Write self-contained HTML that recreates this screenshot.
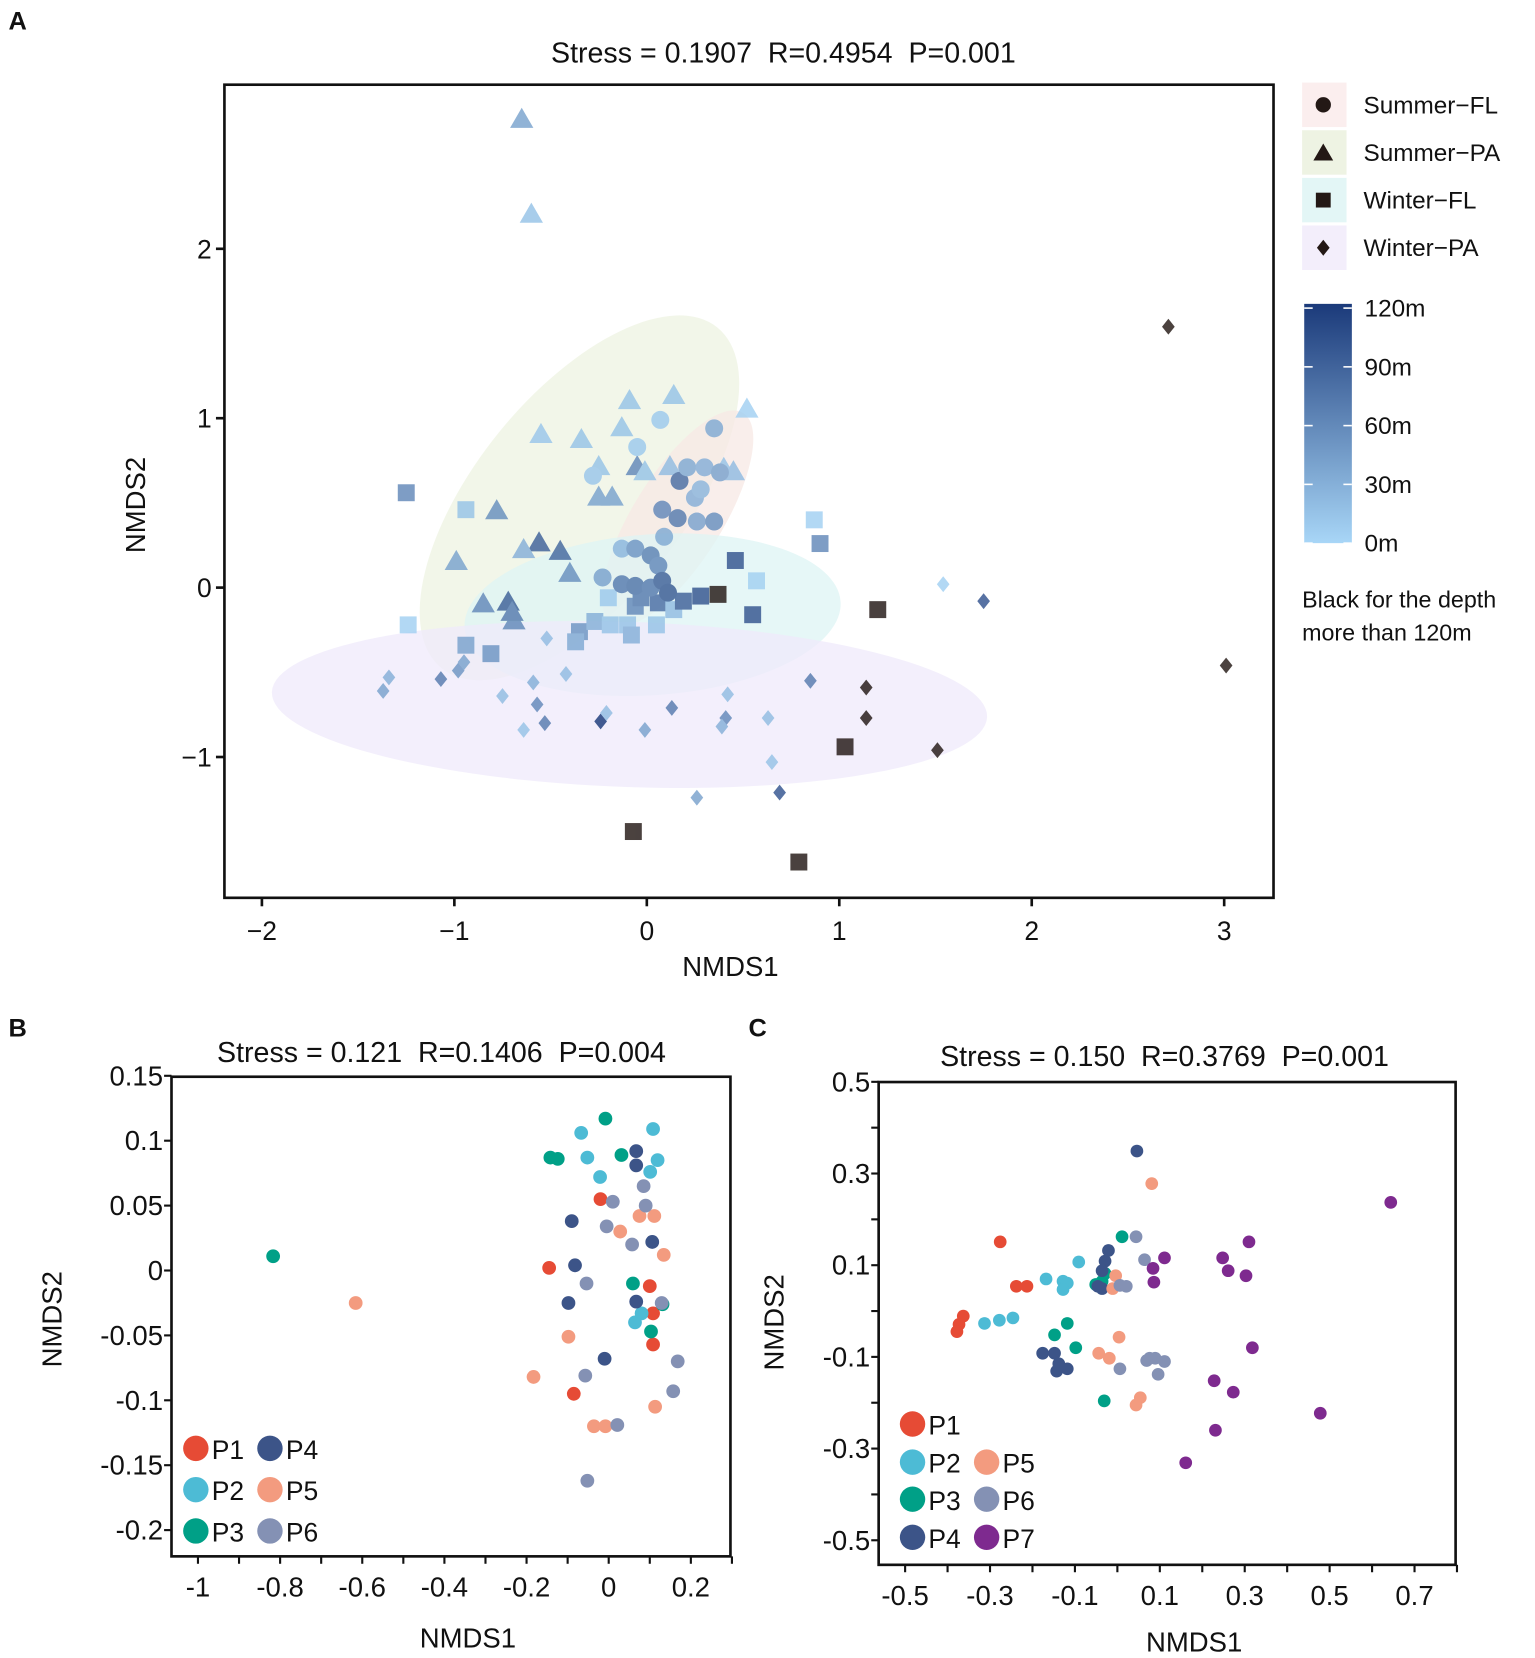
<!DOCTYPE html>
<html><head><meta charset="utf-8">
<style>
html,body{margin:0;padding:0;background:#fff;}
svg{display:block;}
text{font-family:"Liberation Sans",Arial,sans-serif;fill:#111;white-space:pre;}
</style></head>
<body>
<svg id="fig" width="1535" height="1658" viewBox="0 0 1450 1566" preserveAspectRatio="none" xmlns="http://www.w3.org/2000/svg" xml:space="preserve">
<g id="panelA"></g>
<g id="panelB"></g>
<g id="panelC"></g>
</svg>
<script>
// ===== Panel A data =====
const sfX=[0.07,-0.05,0.35,-0.28,0.17,0.21,0.30,0.38,0.25,0.28,0.08,0.16,0.26,0.35,0.09,-0.13,-0.06,0.02,0.06,-0.23,-0.13,-0.06,0.02,0.08,0.11];
const sfY=[0.99,0.83,0.94,0.66,0.63,0.71,0.71,0.68,0.53,0.58,0.46,0.41,0.39,0.39,0.30,0.23,0.23,0.19,0.13,0.06,0.02,0.01,0.0,0.04,-0.03];
const sfD=[10,10,35,12,80,35,30,40,30,25,60,70,40,55,35,25,50,65,60,40,70,75,70,90,95];
const spX=[-0.65,-0.60,0.14,-0.09,0.52,-0.55,-0.13,-0.34,0.12,-0.25,-0.05,0.40,-0.25,-0.18,-0.78,-0.56,-0.64,-0.45,-0.99,-0.40,-0.85,-0.72,-0.69,-0.70,-0.01,0.45];
const spY=[2.77,2.21,1.14,1.11,1.06,0.91,0.95,0.88,0.72,0.72,0.72,0.71,0.54,0.54,0.46,0.27,0.23,0.22,0.16,0.09,-0.09,-0.08,-0.19,-0.14,0.69,0.69];
const spD=[40,15,15,15,5,12,15,15,20,15,60,15,40,40,55,90,30,85,40,55,60,90,60,70,15,20];
const wfX=[-1.25,-0.94,0.87,0.90,0.46,0.57,0.37,0.28,0.55,1.20,-1.24,-0.94,-0.81,-0.35,-0.27,-0.19,-0.10,-0.08,-0.06,-0.03,0.05,0.06,0.14,0.19,-0.20,1.03,-0.07,0.79,-0.37];
const wfY=[0.56,0.46,0.40,0.26,0.16,0.04,-0.04,-0.05,-0.16,-0.13,-0.22,-0.34,-0.39,-0.26,-0.20,-0.22,-0.22,-0.28,-0.11,-0.06,-0.22,-0.09,-0.13,-0.08,-0.06,-0.94,-1.44,-1.62,-0.32];
const wfD=[60,15,5,60,100,5,150,100,100,150,5,40,50,50,30,15,15,30,60,70,15,80,20,90,10,150,150,150,35];
const wpX=[2.71,3.01,1.54,1.75,1.14,1.14,1.51,-1.34,-1.37,-1.07,-0.98,-0.95,-0.52,-0.59,-0.42,-0.57,-0.75,-0.64,-0.53,-0.24,-0.21,-0.01,0.13,0.42,0.41,0.39,0.63,0.85,0.65,0.26,0.69];
const wpY=[1.54,-0.46,0.02,-0.08,-0.59,-0.77,-0.96,-0.53,-0.61,-0.54,-0.49,-0.44,-0.30,-0.56,-0.51,-0.69,-0.64,-0.84,-0.80,-0.79,-0.74,-0.84,-0.71,-0.63,-0.77,-0.82,-0.77,-0.55,-1.03,-1.24,-1.21];
const wpD=[150,150,5,100,150,150,150,30,40,70,50,40,20,30,20,60,20,15,70,120,20,40,70,20,60,30,20,70,15,40,100];
const aXTicks=[-2,-1,0,1,2,3];
const aYTicks=[-1,0,1,2];
const depthTicks=[0,30,60,90,120];

// ===== Panel B data =====
const bXTicks=[-1,-0.8,-0.6,-0.4,-0.2,0,0.2];
const bYTicks=[0.15,0.1,0.05,0,-0.05,-0.1,-0.15,-0.2];
const bYLabels=["0.15","0.1","0.05","0","-0.05","-0.1","-0.15","-0.2"];
const bP1x=[-0.02,-0.145,0.10,0.108,0.108,-0.085];
const bP1y=[0.055,0.002,-0.012,-0.033,-0.057,-0.095];
const bP2x=[-0.067,0.108,-0.052,0.119,-0.021,0.101,0.064,0.08];
const bP2y=[0.106,0.109,0.087,0.085,0.072,0.076,-0.04,-0.033];
const bP3x=[-0.008,-0.142,-0.124,0.031,0.059,0.131,0.103,-0.817];
const bP3y=[0.117,0.087,0.086,0.089,-0.01,-0.026,-0.047,0.011];
const bP4x=[0.067,0.067,-0.09,-0.082,-0.098,0.067,-0.01,0.106];
const bP4y=[0.092,0.081,0.038,0.004,-0.025,-0.024,-0.068,0.022];
const bP5x=[0.075,0.111,0.028,0.134,-0.098,-0.183,0.113,-0.036,-0.008,-0.616];
const bP5y=[0.042,0.042,0.03,0.012,-0.051,-0.082,-0.105,-0.12,-0.12,-0.025];
const bP6x=[0.01,0.085,0.09,-0.005,0.057,-0.054,0.129,0.168,0.157,-0.057,0.021,-0.052];
const bP6y=[0.053,0.065,0.05,0.034,0.02,-0.01,-0.025,-0.07,-0.093,-0.081,-0.119,-0.162];

// ===== Panel C data =====
const cXTicks=[-0.5,-0.3,-0.1,0.1,0.3,0.5,0.7];
const cYTicks=[0.5,0.3,0.1,-0.1,-0.3,-0.5];
const cP1x=[-0.276,-0.238,-0.213,-0.363,-0.373,-0.378];
const cP1y=[0.151,0.054,0.054,-0.011,-0.029,-0.045];
const cP2x=[-0.313,-0.278,-0.246,-0.168,-0.128,-0.118,-0.128,-0.091];
const cP2y=[-0.027,-0.020,-0.015,0.070,0.065,0.061,0.047,0.107];
const cP3x=[0.011,-0.029,-0.036,-0.051,-0.118,-0.148,-0.098,-0.031];
const cP3y=[0.162,0.082,0.065,0.058,-0.027,-0.052,-0.080,-0.196];
const cP4x=[0.046,-0.021,-0.029,-0.036,-0.036,-0.176,-0.148,-0.138,-0.143,-0.118,-0.046];
const cP4y=[0.349,0.132,0.109,0.088,0.049,-0.092,-0.092,-0.115,-0.131,-0.126,0.054];
const cP5x=[0.081,-0.004,-0.011,-0.044,-0.019,0.004,0.054,0.044];
const cP5y=[0.278,0.077,0.049,-0.092,-0.103,-0.057,-0.189,-0.205];
const cP6x=[0.044,0.064,0.006,0.021,0.076,0.089,0.069,0.111,0.006,0.096];
const cP6y=[0.162,0.112,0.056,0.054,-0.103,-0.103,-0.108,-0.110,-0.126,-0.138];
const cP7x=[0.644,0.310,0.111,0.248,0.261,0.303,0.084,0.086,0.318,0.228,0.273,0.478,0.231,0.161];
const cP7y=[0.237,0.151,0.116,0.116,0.088,0.077,0.093,0.063,-0.080,-0.152,-0.177,-0.223,-0.260,-0.331];

const NS="http://www.w3.org/2000/svg";
function mk(parent,tag,attrs,txt){const e=document.createElementNS(NS,tag);for(const k in attrs)e.setAttribute(k,attrs[k]);if(txt!==undefined)e.textContent=txt;parent.appendChild(e);return e;}
function lerp(a,b,t){return Math.round(a+(b-a)*t);}
function depthColor(d){if(d>120)return "#231815";const t=d/120;const c0=[168,214,247],c1=[27,58,122];return `rgb(${lerp(c0[0],c1[0],t)},${lerp(c0[1],c1[1],t)},${lerp(c0[2],c1[2],t)})`;}

// ===== Panel A =====
const A=document.getElementById('panelA');
const ax=v=>611+v*181.8, ay=v=>555-v*160;
let t;
t=mk(A,'text',{x:8,y:28,'font-size':24,'font-weight':'bold'},'A');


t=mk(A,'text',{x:740,y:59,'font-size':27,'text-anchor':'middle'},'Stress = 0.1907  R=0.4954  P=0.001');


const ellA=[
 {n:'ellipse-summer-pa',cx:-0.35,cy:0.53,rx:207,ry:98,rot:-51,fill:'#eef3e1'},
 {n:'ellipse-summer-fl',cx:0.16,cy:0.41,rx:117,ry:42,rot:-58,fill:'#f7e8e4'},
 {n:'ellipse-winter-fl',cx:0.03,cy:-0.16,rx:178,ry:76,rot:-4,fill:'#ddf4f4'},
 {n:'ellipse-winter-pa',cx:-0.09,cy:-0.69,rx:338,ry:78,rot:2,fill:'#efeafb'}];
ellA.forEach(e=>{const el=mk(A,'ellipse',{cx:0,cy:0,rx:e.rx,ry:e.ry,fill:e.fill,'fill-opacity':0.75,transform:`translate(${ax(e.cx)},${ay(e.cy)}) rotate(${e.rot})`});
 
 });
function shape(g,kind,x,y,col,s){let el;
 if(kind==='c')el=mk(g,'circle',{cx:x,cy:y,r:8.5*s,fill:col});
 else if(kind==='t')el=mk(g,'polygon',{points:`${x},${y-10*s} ${x-11*s},${y+9*s} ${x+11*s},${y+9*s}`,fill:col});
 else if(kind==='s')el=mk(g,'rect',{x:x-8*s,y:y-8*s,width:16*s,height:16*s,fill:col});
 else el=mk(g,'polygon',{points:`${x},${y-7.5*s} ${x+6*s},${y} ${x},${y+7.5*s} ${x-6*s},${y}`,fill:col});
 return el;}
const gp=mk(A,'g',{opacity:0.82});


wpX.forEach((v,i)=>{const el=shape(gp,'d',ax(v),ay(wpY[i]),depthColor(wpD[i]),1);
 
 });
wfX.forEach((v,i)=>{const el=shape(gp,'s',ax(v),ay(wfY[i]),depthColor(wfD[i]),1);
 
 });
spX.forEach((v,i)=>{const el=shape(gp,'t',ax(v),ay(spY[i]),depthColor(spD[i]),1);
 
 });
sfX.forEach((v,i)=>{const el=shape(gp,'c',ax(v),ay(sfY[i]),depthColor(sfD[i]),1);
 
 });
t=mk(A,'rect',{x:212,y:80,width:991,height:768,fill:'none',stroke:'#111','stroke-width':2.5});


aXTicks.forEach(v=>{const l=mk(A,'line',{x1:ax(v),x2:ax(v),y1:848,y2:856,stroke:'#111','stroke-width':2.5});
 
 
 const tx=mk(A,'text',{x:ax(v),y:888,'font-size':25,'text-anchor':'middle'},v<0?'\u2212'+(-v):String(v));
 
 });
aYTicks.forEach(v=>{const l=mk(A,'line',{x1:204,x2:212,y1:ay(v),y2:ay(v),stroke:'#111','stroke-width':2.5});
 
 
 const tx=mk(A,'text',{x:200,y:ay(v)+9,'font-size':25,'text-anchor':'end'},v<0?'\u2212'+(-v):String(v));
 
 });
t=mk(A,'text',{x:690,y:922,'font-size':26,'text-anchor':'middle'},'NMDS1');


t=mk(A,'text',{x:0,y:0,'font-size':26,'text-anchor':'middle',transform:'translate(137,477) rotate(-90)'},'NMDS2');


const legA=[['Summer\u2212FL','c','#fbeeee'],['Summer\u2212PA','t','#eef3e3'],['Winter\u2212FL','s','#e3f6f6'],['Winter\u2212PA','d','#f3eefb']];
legA.forEach((L,i)=>{const y=99+i*45;
 const g=mk(A,'g',{});
 
 
 mk(g,'rect',{x:1230,y:y-21,width:42,height:42,fill:L[2]});
 const s=shape(g,L[1],1250,y,'#231815',L[1]==='d'?1:0.85);
 if(L[1]==='s'){s.setAttribute('x',1243);s.setAttribute('y',y-7);s.setAttribute('width',14);s.setAttribute('height',14);}
 mk(g,'text',{x:1288,y:y+8,'font-size':23},L[0]);});
const defs=mk(document.getElementById('fig'),'defs',{});
const lg=mk(defs,'linearGradient',{id:'dg',x1:0,y1:1,x2:0,y2:0});
mk(lg,'stop',{offset:0,'stop-color':depthColor(0)});
mk(lg,'stop',{offset:1,'stop-color':depthColor(120)});
t=mk(A,'rect',{x:1232,y:287,width:45,height:226,fill:'url(#dg)'});


depthTicks.forEach(d=>{const y=513-d/120*222;
 mk(A,'line',{x1:1232,x2:1240,y1:y,y2:y,stroke:'#fff','stroke-width':1.5});
 mk(A,'line',{x1:1269,x2:1277,y1:y,y2:y,stroke:'#fff','stroke-width':1.5});
 const tx=mk(A,'text',{x:1289,y:y+8,'font-size':23},d+'m');
 
 });
t=mk(A,'text',{x:1230,y:574,'font-size':22},'Black for the depth');


t=mk(A,'text',{x:1230,y:605,'font-size':22},'more than 120m');



// ===== Panels B and C =====
const pal={P1:'#e64b35',P2:'#4dbbd5',P3:'#00a087',P4:'#3c5488',P5:'#f39b7f',P6:'#8491b4',P7:'#7e2a8f'};
function panel(G,o){
 let tt=mk(G,'text',{x:o.lx,y:o.ly,'font-size':24,'font-weight':'bold'},o.letter);
 
 
 tt=mk(G,'text',{x:o.tx,y:o.ty,'font-size':27,'text-anchor':'middle'},o.title);
 
 
 o.series.forEach(s=>{s.x.forEach((v,i)=>{const c=mk(G,'circle',{cx:o.sx(v),cy:o.sy(s.y[i]),r:o.r,fill:pal[s.n]});
  
  });});
 tt=mk(G,'rect',{x:o.x0,y:o.y0,width:o.x1-o.x0,height:o.y1-o.y0,fill:'none',stroke:'#111','stroke-width':2.5});
 
 
 o.xMinor.forEach(v=>{const l=mk(G,'line',{x1:o.sx(v),x2:o.sx(v),y1:o.y1,y2:o.y1+7,stroke:'#111','stroke-width':2});
  
  });
 o.xt.forEach((v,i)=>{const tx=mk(G,'text',{x:o.sx(v),y:o.y1+38,'font-size':26,'text-anchor':'middle'},o.xl[i]);
  
  });
 o.yMinor.forEach(v=>{const l=mk(G,'line',{x1:o.x0-7,x2:o.x0,y1:o.sy(v),y2:o.sy(v),stroke:'#111','stroke-width':2});
  
  });
 o.yt.forEach((v,i)=>{const tx=mk(G,'text',{x:o.x0-8,y:o.sy(v)+9,'font-size':26,'text-anchor':'end'},o.yl[i]);
  
  });
 tt=mk(G,'text',{x:o.xtx,y:o.xty,'font-size':26,'text-anchor':'middle'},'NMDS1');
 
 
 tt=mk(G,'text',{x:0,y:0,'font-size':26,'text-anchor':'middle',transform:`translate(${o.ytx},${o.yty}) rotate(-90)`},'NMDS2');
 
 
 o.leg.forEach(L=>{const g=mk(G,'g',{});
  
  
  mk(g,'circle',{cx:L[1],cy:L[2],r:12,fill:pal[L[0]]});
  mk(g,'text',{x:L[1]+15,y:L[2]+10,'font-size':25},L[0]);});
}
const fmt=v=>String(Math.round(v*100)/100);
panel(document.getElementById('panelB'),{
 letter:'B',lx:8,ly:979,title:'Stress = 0.121  R=0.1406  P=0.004',tx:417,ty:1003,
 x0:162,x1:690,y0:1017,y1:1470,sx:v=>575+v*388,sy:v=>1200-v*1226,r:6.5,
 xt:bXTicks,xl:bXTicks.map(fmt),xMinor:[-1,-0.9,-0.8,-0.7,-0.6,-0.5,-0.4,-0.3,-0.2,-0.1,0,0.1,0.2,0.3],
 yt:bYTicks,yl:bYLabels,yMinor:bYTicks,
 xtx:442,xty:1556,ytx:58,yty:1246,
 series:[{n:'P1',x:bP1x,y:bP1y},{n:'P2',x:bP2x,y:bP2y},{n:'P3',x:bP3x,y:bP3y},{n:'P4',x:bP4x,y:bP4y},{n:'P5',x:bP5x,y:bP5y},{n:'P6',x:bP6x,y:bP6y}],
 leg:[['P1',185,1368],['P4',255,1368],['P2',185,1407],['P5',255,1407],['P3',185,1446],['P6',255,1446]]});
panel(document.getElementById('panelC'),{
 letter:'C',lx:707,ly:979,title:'Stress = 0.150  R=0.3769  P=0.001',tx:1100,ty:1007,
 x0:830,x1:1375,y0:1022,y1:1478,sx:v=>1055.5+v*401,sy:v=>1238.3-v*433,r:6,
 xt:cXTicks,xl:cXTicks.map(fmt),xMinor:[-0.5,-0.4,-0.3,-0.2,-0.1,0,0.1,0.2,0.3,0.4,0.5,0.6,0.7,0.8],
 yt:cYTicks,yl:cYTicks.map(fmt),yMinor:[0.5,0.4,0.3,0.2,0.1,0,-0.1,-0.2,-0.3,-0.4,-0.5],
 xtx:1128,xty:1560,ytx:740,yty:1249,
 series:[{n:'P1',x:cP1x,y:cP1y},{n:'P2',x:cP2x,y:cP2y},{n:'P3',x:cP3x,y:cP3y},{n:'P4',x:cP4x,y:cP4y},{n:'P5',x:cP5x,y:cP5y},{n:'P6',x:cP6x,y:cP6y},{n:'P7',x:cP7x,y:cP7y}],
 leg:[['P1',862,1345],['P2',862,1381],['P5',932,1381],['P3',862,1416],['P6',932,1416],['P4',862,1452],['P7',932,1452]]});
</script>
</body></html>
